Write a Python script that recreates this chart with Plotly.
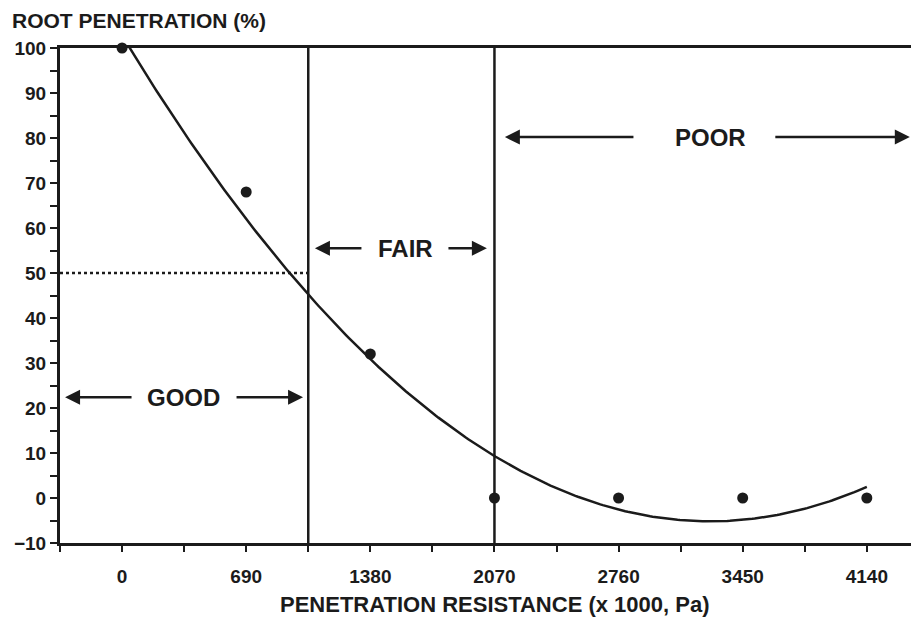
import numpy as np
import plotly.graph_objects as go

# ---- data ----
resistance = [0, 690, 1380, 2070, 2760, 3450, 4140]      # x 1000 Pa
root_penetration = [100, 68, 32, 0, 0, 0, 0]              # %
x_tick_values = [0, 690, 1380, 2070, 2760, 3450, 4140]
x_tick_labels = ["0", "690", "1380", "2070", "2760", "3450", "4140"]
y_tick_values = [-10, 0, 10, 20, 30, 40, 50, 60, 70, 80, 90, 100]
zone_bounds = [1035, 2070]          # GOOD | FAIR | POOR boundaries
zone_names = ["GOOD", "FAIR", "POOR"]
threshold = 50                       # 50 % root penetration

INK = "#1b1b1b"
FONT = "Liberation Sans, Arial, sans-serif"

# second-order trendline fitted to the observations
coef = np.polyfit(resistance, root_penetration, 2)
xs = np.linspace(min(resistance), max(resistance), 300)
ys = np.polyval(coef, xs)

XMIN, XMAX = -345, 4430

fig = go.Figure()

fig.add_trace(go.Scatter(x=xs, y=ys, mode="lines",
                         line=dict(color=INK, width=2.5),
                         hoverinfo="skip", showlegend=False))
fig.add_trace(go.Scatter(x=resistance, y=root_penetration, mode="markers",
                         marker=dict(color=INK, size=11),
                         cliponaxis=False, showlegend=False))

# zone boundary lines
for b in zone_bounds:
    fig.add_shape(type="line", x0=b, x1=b, y0=-10, y1=100, xref="x", yref="y",
                  line=dict(color=INK, width=2.5))
# dotted 50 % line
fig.add_shape(type="line", x0=XMIN, x1=zone_bounds[0], y0=threshold, y1=threshold,
              xref="x", yref="y", line=dict(color=INK, width=2.5, dash="dot"))

# zone arrows + labels: (left tip, left shaft end, right shaft start, right tip, text x, y)
zones = [
    (-317, 61, 628, 1006, 342, 22.4),
    (1072, 1339, 1806, 2028, 1575, 55.5),
    (2128, 2851, 3623, 4379, 3270, 80.2),
]
for name, (lt, le, rs, rt, tx, yy) in zip(zone_names, zones):
    fig.add_annotation(x=lt, y=yy, ax=le, ay=yy, xref="x", yref="y", axref="x", ayref="y",
                       text="", showarrow=True, arrowhead=2, arrowsize=1.2,
                       arrowwidth=2.5, arrowcolor=INK, standoff=0, startstandoff=0)
    fig.add_annotation(x=rt, y=yy, ax=rs, ay=yy, xref="x", yref="y", axref="x", ayref="y",
                       text="", showarrow=True, arrowhead=2, arrowsize=1.2,
                       arrowwidth=2.5, arrowcolor=INK, standoff=0, startstandoff=0)
    fig.add_annotation(x=tx, y=yy, xref="x", yref="y", text=name, showarrow=False,
                       font=dict(family=FONT, size=24, color=INK, weight="bold"))

# axis titles
fig.add_annotation(x=(495 - 60) / 859, y=(543 - 604) / 495, xref="paper", yref="paper",
                   text="PENETRATION RESISTANCE (x 1000, Pa)", showarrow=False,
                   xanchor="center", yanchor="middle",
                   font=dict(family=FONT, size=22, color=INK, weight="bold"))
fig.add_annotation(x=(10 - 60) / 859, y=(543 - 20) / 495, xref="paper", yref="paper",
                   text="ROOT PENETRATION (%)", showarrow=False,
                   xanchor="left", yanchor="middle",
                   font=dict(family=FONT, size=21, color=INK, weight="bold"))

x_all = list(range(XMIN, 4486, 345))
x_text = [x_tick_labels[x_tick_values.index(v)] if v in x_tick_values else "" for v in x_all]

fig.update_xaxes(range=[XMIN, XMAX], showgrid=False, zeroline=False,
                 showline=True, linecolor=INK, linewidth=3, mirror=True,
                 tickmode="array", tickvals=x_all, ticktext=x_text,
                 ticks="outside", ticklen=6, tickwidth=2, tickcolor=INK,
                 ticklabelstandoff=8,
                 tickfont=dict(family=FONT, size=19, color=INK, weight="bold"))
fig.update_yaxes(range=[-10, 100], showgrid=False, zeroline=False,
                 showline=True, linecolor=INK, linewidth=3,
                 tickmode="array", tickvals=y_tick_values,
                 ticks="outside", ticklen=7, tickwidth=2, tickcolor=INK,
                 minor=dict(dtick=5, tick0=0, ticks="outside", ticklen=7, tickwidth=2, tickcolor=INK),
                 tickfont=dict(family=FONT, size=19, color=INK, weight="bold"))

# page body has an 8px default margin, so the figure is sized to fit the 919x618 window
fig.update_layout(width=911, height=610, plot_bgcolor="white", paper_bgcolor="white",
                  margin=dict(l=52, r=0, t=40, b=75), showlegend=False)

fig.write_html("out.html")
